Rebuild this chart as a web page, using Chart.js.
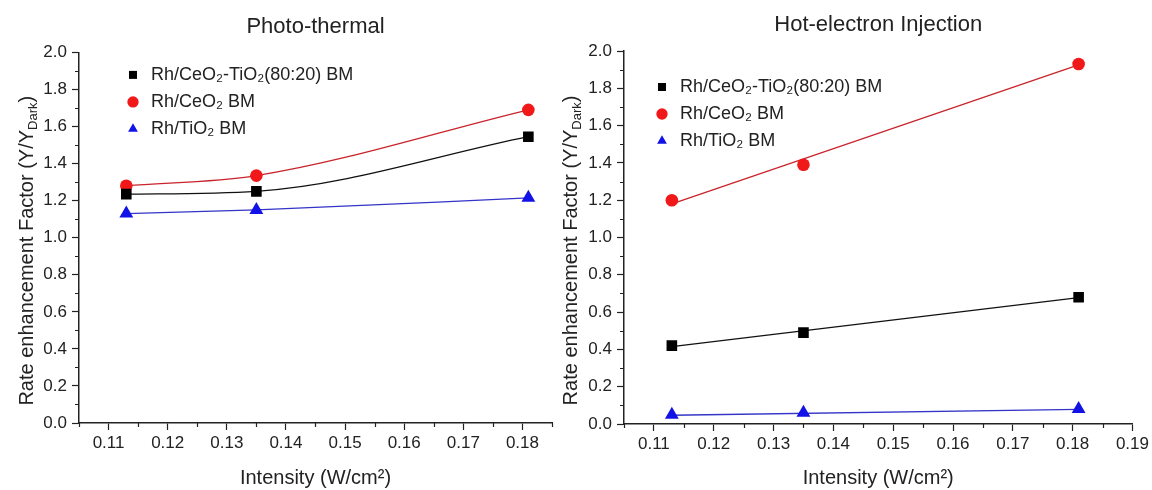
<!DOCTYPE html>
<html>
<head>
<meta charset="utf-8">
<title>Rate enhancement factor vs intensity</title>
<script src="https://cdn.jsdelivr.net/npm/chart.js@4.4.1/dist/chart.umd.min.js"></script>
<style>
  html, body { margin: 0; padding: 0; background: #fff; }
  #wrap { position: relative; width: 1152px; height: 490px; overflow: hidden; }
  .panel { position: absolute; top: 0; }
  #left { left: 0; }
  #right { left: 552px; }
</style>
</head>
<body>
<div id="wrap">
  <div class="panel" id="left"><canvas id="photoChart" width="560" height="490"></canvas></div>
  <div class="panel" id="right"><canvas id="hotChart" width="600" height="490"></canvas></div>
</div>
<script>
// values
const intensity = [0.113, 0.135, 0.181];
const seriesNames = ["Rh/CeO₂-TiO₂(80:20) BM", "Rh/CeO₂ BM", "Rh/TiO₂ BM"];

const photoBlack = [1.235, 1.25, 1.545];
const photoRed = [1.28, 1.335, 1.69];
const photoBlue = [1.13, 1.15, 1.215];

const hotBlack = [0.42, 0.49, 0.68];
const hotRed = [1.2, 1.39, 1.93];
const hotBlue = [0.05, 0.06, 0.08];

// ends of the straight fit lines in the right panel
const fitX = [0.113, 0.181];
const hotBlackFit = [0.415, 0.678];
const hotRedFit = [1.18, 1.925];
const hotBlueFit = [0.047, 0.078];

const FONT = '"Liberation Sans", Arial, sans-serif';
const INK = "#222";

const looks = [
  { dot: "#000000", line: "#111111", shape: "rect", r: 7.5 },
  { dot: "#f01818", line: "#c9242c", shape: "circle", r: 6.3 },
  { dot: "#1212e6", line: "#3434c8", shape: "triangle", r: 8 }
];

const pts = (xs, ys) => xs.map((x, i) => ({ x: x, y: ys[i] }));
const isMajorX = v => Math.round(v * 1000) % 10 === 0;
const isMajorY = v => Math.round(v * 10) % 2 === 0;

// short minor ticks, drawn from the scales' own tick list
const minorTicks = {
  id: "minorTicks",
  afterDraw(chart) {
    const ctx = chart.ctx;
    const sx = chart.scales.x, sy = chart.scales.y;
    ctx.save();
    ctx.strokeStyle = INK;
    ctx.lineWidth = 1.2;
    ctx.beginPath();
    sx.ticks.forEach(t => {
      if (isMajorX(t.value)) return;
      const px = Math.round(sx.getPixelForValue(t.value)) + 0.5;
      ctx.moveTo(px, sx.top);
      ctx.lineTo(px, sx.top + 4);
    });
    sy.ticks.forEach(t => {
      if (isMajorY(t.value)) return;
      const py = Math.round(sy.getPixelForValue(t.value)) + 0.5;
      ctx.moveTo(sy.right, py);
      ctx.lineTo(sy.right - 4, py);
    });
    ctx.stroke();
    ctx.restore();
  }
};

// y title with the "Dark" subscript
const yTitle = {
  id: "yTitle",
  afterDraw(chart, args, o) {
    const ctx = chart.ctx, area = chart.chartArea;
    const main = "Rate enhancement Factor (Y/Y", sub = "Dark", tail = ")";
    ctx.save();
    ctx.fillStyle = INK;
    ctx.textBaseline = "alphabetic";
    ctx.font = "20px " + FONT;
    const wMain = ctx.measureText(main).width;
    const wTail = ctx.measureText(tail).width;
    ctx.font = "13px " + FONT;
    const wSub = ctx.measureText(sub).width;
    const total = wMain + wSub + wTail;
    ctx.translate(o.x, (area.top + area.bottom) / 2 + o.shift);
    ctx.rotate(-Math.PI / 2);
    const x0 = -total / 2;
    ctx.font = "20px " + FONT;
    ctx.fillText(main, x0, 7);
    ctx.fillText(tail, x0 + wMain + wSub, 7);
    ctx.font = "13px " + FONT;
    ctx.fillText(sub, x0 + wMain, 11);
    ctx.restore();
  }
};

// put the legend inside the plot, below its top edge
const nudge = {
  id: "nudge",
  afterLayout(chart, args, o) {
    const area = chart.chartArea;
    if (chart.legend) {
      chart.legend.left = area.left + o.legendDx;
      chart.legend.top = area.top + o.legendDy;
      chart.legend.bottom = area.bottom;
    }
    if (chart.titleBlock) {
      chart.titleBlock.left += o.titleDx;
      chart.titleBlock.right += o.titleDx;
    }
  }
};

function makeOptions(cfg) {
  return {
    responsive: false,
    animation: false,
    events: [],
    layout: { padding: cfg.padding },
    scales: {
      x: {
        type: "linear",
        min: 0.105,
        max: cfg.xMax,
        afterFit: s => { s.height = cfg.xHeight; },
        border: { display: true, color: INK, width: 1.5 },
        grid: {
          drawOnChartArea: false,
          drawTicks: true,
          tickLength: 7,
          tickWidth: 1.2,
          tickColor: c => (c.tick && isMajorX(c.tick.value)) ? INK : "rgba(0,0,0,0)"
        },
        ticks: {
          stepSize: 0.005,
          maxTicksLimit: 100,
          autoSkip: false,
          maxRotation: 0,
          padding: 3,
          color: INK,
          font: { family: FONT, size: 17 },
          callback: v => isMajorX(v) ? v.toFixed(2) : ""
        },
        title: {
          display: true,
          text: "Intensity (W/cm²)",
          color: INK,
          font: { family: FONT, size: 20 },
          padding: { top: 0, bottom: 0 }
        }
      },
      y: {
        min: 0,
        max: 2,
        afterFit: s => { s.width = 50; },
        border: { display: true, color: INK, width: 1.5 },
        grid: {
          drawOnChartArea: false,
          drawTicks: true,
          tickLength: 7,
          tickWidth: 1.2,
          tickColor: c => (c.tick && isMajorY(c.tick.value)) ? INK : "rgba(0,0,0,0)"
        },
        ticks: {
          stepSize: 0.1,
          maxTicksLimit: 100,
          autoSkip: false,
          padding: 5,
          color: INK,
          font: { family: FONT, size: 17 },
          callback: v => isMajorY(v) ? v.toFixed(1) : ""
        }
      }
    },
    plugins: {
      title: {
        display: true,
        text: cfg.title,
        fullSize: false,
        color: INK,
        font: { family: FONT, size: 22, weight: "normal" },
        padding: cfg.titlePad
      },
      legend: {
        position: "chartArea",
        align: "start",
        labels: {
          usePointStyle: true,
          boxWidth: 18,
          boxHeight: 8,
          padding: 9,
          color: INK,
          font: { family: FONT, size: 18 },
          filter: item => item.datasetIndex < 3
        }
      },
      tooltip: { enabled: false },
      yTitle: { x: cfg.yTitleX, shift: 13 },
      nudge: cfg.nudge
    }
  };
}

function pointSet(i, ys, showLine) {
  const s = looks[i];
  return {
    label: seriesNames[i],
    data: pts(intensity, ys),
    showLine: showLine,
    borderColor: s.line,
    borderWidth: 1.3,
    backgroundColor: s.dot,
    pointStyle: s.shape,
    pointRadius: s.r,
    pointBackgroundColor: s.dot,
    pointBorderWidth: 0,
    cubicInterpolationMode: "monotone",
    fill: false
  };
}

function fitSet(i, ys) {
  return {
    label: seriesNames[i] + " fit",
    data: pts(fitX, ys),
    borderColor: looks[i].line,
    borderWidth: 1.3,
    pointRadius: 0,
    tension: 0,
    fill: false
  };
}

new Chart(document.getElementById("photoChart"), {
  type: "line",
  data: {
    datasets: [
      pointSet(0, photoBlack, true),
      pointSet(1, photoRed, true),
      pointSet(2, photoBlue, true)
    ]
  },
  options: makeOptions({
    title: "Photo-thermal",
    xMax: 0.185,
    xHeight: 67,
    padding: { left: 29, right: 4, top: 0, bottom: 0 },
    titlePad: { top: 14, bottom: 12 },
    yTitleX: 26,
    nudge: { legendDx: 36, legendDy: 4.5, titleDx: 0 }
  }),
  plugins: [minorTicks, yTitle, nudge]
});

new Chart(document.getElementById("hotChart"), {
  type: "line",
  data: {
    datasets: [
      pointSet(0, hotBlack, false),
      pointSet(1, hotRed, false),
      pointSet(2, hotBlue, false),
      fitSet(0, hotBlackFit),
      fitSet(1, hotRedFit),
      fitSet(2, hotBlueFit)
    ]
  },
  options: makeOptions({
    title: "Hot-electron Injection",
    xMax: 0.19,
    xHeight: 66,
    padding: { left: 22, right: 18, top: 0, bottom: 0 },
    titlePad: { top: 12, bottom: 12.6 },
    yTitleX: 18,
    nudge: { legendDx: 20, legendDy: 18, titleDx: 0 }
  }),
  plugins: [minorTicks, yTitle, nudge]
});
</script>
</body>
</html>
